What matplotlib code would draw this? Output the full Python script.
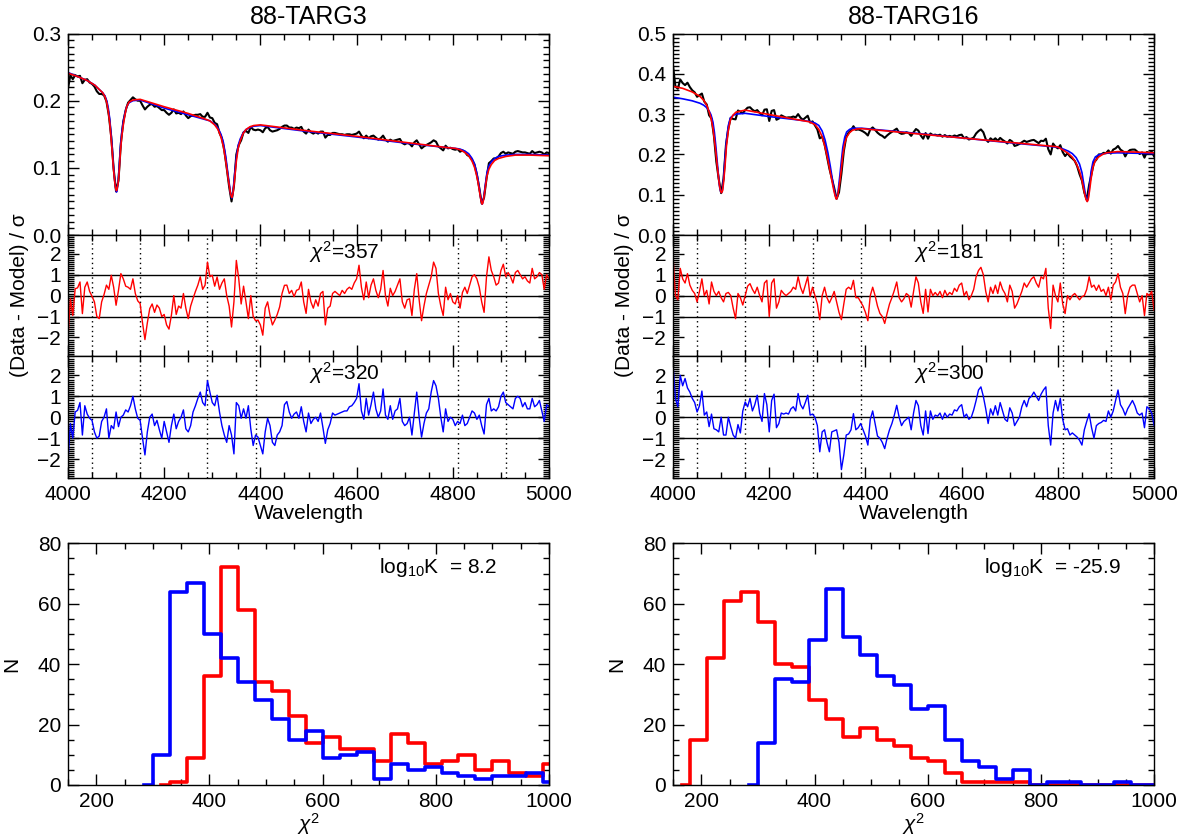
import matplotlib.pyplot as plt
import numpy as np
from matplotlib.ticker import MultipleLocator

plt.rcParams['font.family'] = ['Liberation Sans', 'DejaVu Sans']
plt.rcParams['mathtext.fontset'] = 'custom'
plt.rcParams['mathtext.rm'] = 'Liberation Sans'
plt.rcParams['mathtext.it'] = 'Liberation Sans:italic'

# wavelength grid of the observed spectra (5 A bins)
wave = np.arange(4000, 5001, 5)

# ---------------- 88-TARG3 ----------------
flux_targ3 = [
    .218, .238, .232, .238, .236, .237, .226, .231, .232, .227,
    .225, .221, .214, .210, .210, .208, .199, .178, .146, .098,
    .065, .081, .137, .169, .186, .197, .201, .205, .202, .200,
    .200, .193, .187, .191, .194, .195, .191, .192, .189, .186,
    .186, .182, .179, .182, .187, .181, .182, .180, .184, .178,
    .174, .177, .178, .179, .179, .180, .176, .176, .182, .175,
    .174, .167, .165, .152, .144, .126, .100, .072, .050, .073,
    .120, .134, .141, .153, .155, .152, .161, .157, .156, .157,
    .156, .153, .159, .161, .156, .154, .155, .156, .158, .161,
    .163, .163, .160, .160, .158, .160, .159, .161, .154, .151,
    .157, .153, .151, .153, .151, .154, .154, .145, .149, .149,
    .152, .152, .151, .150, .150, .149, .150, .150, .149, .150,
    .151, .154, .148, .144, .148, .144, .147, .148, .145, .142,
    .144, .148, .142, .139, .142, .140, .141, .142, .143, .137,
    .135, .137, .136, .132, .138, .141, .135, .129, .132, .134,
    .136, .138, .141, .139, .132, .129, .126, .133, .129, .130,
    .128, .127, .128, .124, .126, .124, .119, .117, .112, .105,
    .090, .070, .047, .056, .084, .107, .110, .114, .114, .117,
    .122, .124, .121, .123, .122, .121, .124, .125, .124, .123,
    .123, .122, .121, .125, .122, .123, .124, .123, .120, .123,
    .122]

# model A (red) and model B (blue) for 88-TARG3
mwave_targ3 = [4000, 4020, 4040, 4056, 4066, 4072, 4077, 4081, 4084, 4087, 4089, 4092,
               4094, 4096, 4098, 4100, 4101, 4102, 4104, 4106, 4109, 4112, 4115, 4119,
               4122, 4127, 4135, 4150, 4200, 4250, 4280, 4295, 4305, 4312, 4318, 4323,
               4328, 4332, 4335, 4338, 4340, 4341, 4343, 4346, 4350, 4354, 4358, 4364,
               4370, 4378, 4386, 4400, 4500, 4600, 4700, 4790, 4805, 4815, 4825, 4833,
               4840, 4845, 4849, 4852, 4855, 4857, 4859, 4861, 4862, 4864, 4866, 4868,
               4871, 4875, 4880, 4887, 4895, 4910, 4930, 4960, 5000]
model_a_targ3 = [.241, .236, .230, .223, .216, .212, .206, .196, .183, .166, .149, .124,
                 .104, .088, .074, .067, .066, .068, .076, .090, .124, .148, .164, .181,
                 .191, .198, .201, .202, .191, .181, .174, .170, .164, .157, .146, .132,
                 .110, .089, .075, .061, .057, .056, .062, .080, .110, .130, .140, .151,
                 .157, .161, .163, .164, .155, .147, .138, .130, .129, .127, .123, .118,
                 .110, .101, .090, .080, .067, .058, .050, .046, .047, .053, .063, .073,
                 .088, .098, .105, .111, .114, .117, .119, .119, .118]
model_b_targ3 = [.242, .236, .230, .223, .216, .212, .207, .199, .188, .172, .155, .130,
                 .108, .090, .075, .066, .064, .066, .078, .096, .131, .154, .169, .183,
                 .191, .197, .200, .201, .189, .179, .173, .170, .165, .159, .150, .138,
                 .117, .094, .078, .062, .056, .055, .064, .087, .116, .134, .143, .152,
                 .157, .160, .162, .163, .154, .146, .137, .130, .129, .128, .125, .121,
                 .114, .106, .095, .084, .070, .060, .051, .046, .048, .055, .066, .077,
                 .093, .103, .109, .114, .117, .119, .120, .120, .119]

resid_a_targ3 = [
    -2.0, -0.15, -0.95, 0.33, 0.37, 0.65, -0.86, 0.4, 0.65, 0.2,
    -0.03, -0.3, -1.0, -1.1, -0.3, 0.05, 0.5, 0.3, 0.97, 0.4,
    -0.46, 0.25, 1.05, 0.8, 0.45, 0.4, 0.3, 0.8, 0.1, -0.25,
    -0.38, -1.3, -2.1, -1.3, -0.62, -0.4, -0.8, -0.45, -0.6, -1.0,
    -0.9, -1.4, -1.6, -0.94, 0.0, -0.9, -0.5, -0.6, 0.1, -0.6,
    -1.1, -0.5, -0.14, 0.2, 0.5, 0.9, 0.3, 0.5, 1.6, 0.9,
    0.97, 0.45, 0.89, 0.3, 0.6, 0.8, 0.0, -0.5, -1.5, -0.3,
    1.68, 0.8, -0.4, 0.45, -0.3, -1.1, 0.0, -1.0, -1.2, -1.17,
    -1.4, -1.89, -0.6, -0.3, -0.94, -1.4, -1.17, -0.9, -0.54, 0.1,
    0.49, 0.5, 0.1, 0.25, -0.05, 0.25, 0.3, 0.65, -0.3, -0.85,
    0.3, -0.3, -0.6, -0.2, -0.5, 0.1, 0.2, -1.4, -0.6, -0.5,
    0.1, 0.2, 0.1, 0.0, 0.25, 0.1, 0.3, 0.4, 0.3, 0.6,
    0.8, 1.45, 0.4, -0.2, 0.65, -0.1, 0.5, 0.8, 0.25, -0.1,
    0.3, 1.2, 0.0, -0.5, 0.35, 0.0, 0.2, 0.5, 0.8, -0.3,
    -0.6, -0.2, -0.15, -0.95, 0.3, 1.05, -0.2, -1.2, -0.5, 0.1,
    0.5, 0.9, 1.6, 1.3, 0.1, -0.5, -0.95, 0.4, -0.2, 0.1,
    -0.3, -0.4, 0.0, -0.6, 0.15, 0.4, 0.1, 0.5, 0.9, 1.0,
    0.8, 0.4, -0.3, -0.8, 0.9, 1.85, 1.2, 0.9, 0.5, 0.6,
    1.2, 1.5, 0.9, 1.1, 0.9, 0.6, 1.1, 1.2, 1.0, 0.8,
    0.9, 0.7, 0.6, 1.3, 0.8, 0.9, 1.1, 1.0, 0.3, 1.0,
    0.8]
resid_b_targ3 = [
    -2.1, -0.3, -1.0, 0.25, 0.33, 0.7, -0.85, 0.55, 0.15, -0.05,
    -0.15, -0.7, -1.0, -0.9, -0.2, 0.0, 0.4, -1.0, -0.4, -0.55,
    0.25, -0.45, 0.0, 0.1, 0.35, 0.25, 0.55, 1.0, 0.4, -0.05,
    -0.15, -1.0, -1.8, -0.7, 0.0, 0.15, -0.4, -0.15, -0.6, -1.0,
    -0.2, -0.7, -1.2, -0.4, 0.15, -0.55, -0.2, 0.0, 0.35, -0.55,
    -0.7, -0.4, 0.25, 0.55, 0.9, 1.2, 0.7, 0.55, 1.75, 1.2,
    0.7, 0.55, 1.05, 0.25, -0.4, -0.85, -1.2, -0.4, -0.85, -1.75,
    0.7, 0.55, -0.05, 0.4, -0.05, 0.55, -0.55, -1.35, -0.85, -0.95,
    -1.35, -1.75, -0.7, -0.05, -0.4, -1.2, -1.35, -0.85, -0.7, -0.4,
    0.6, 0.75, 0.25, -0.05, 0.15, 0.25, -0.05, 0.5, -0.2, -0.7,
    0.2, -0.3, -0.1, 0.0, -0.2, 0.2, -0.5, -1.25, -0.6, -0.3,
    0.2, 0.1, 0.15, 0.2, 0.25, 0.3, 0.3, 0.5, 0.55, 0.7,
    0.9, 1.6, 0.3, -0.1, 0.9, 0.1, 0.6, 1.2, 0.4, 0.0,
    0.3, 1.35, 0.1, -0.1, 0.55, -0.1, 0.3, 0.4, 0.9, -0.2,
    -0.4, -0.3, 0.0, -0.85, 0.2, 1.2, 0.0, -0.95, -0.3, 0.2,
    0.4, 1.2, 1.75, 1.5, 0.9, 0.0, -0.7, 0.4, -0.2, 0.0,
    -0.1, -0.4, -0.2, -0.3, 0.1, -0.4, -0.3, 0.0, 0.3, 0.2,
    -0.1, 0.1, -0.4, -0.8, 0.6, 0.9, 0.3, 0.4, 0.3, 0.5,
    1.0, 1.2, 0.7, 0.6, 0.5, 0.4, 0.9, 1.0, 0.9, 0.5,
    0.7, 0.4, 0.4, 0.9, 0.5, 0.6, 0.8, 0.3, -0.2, 0.6,
    0.5]

# ---------------- 88-TARG16 ----------------
flux_targ16 = [
    .420, .368, .363, .386, .377, .372, .378, .367, .359, .354,
    .343, .347, .351, .331, .324, .297, .289, .246, .182, .139,
    .104, .140, .223, .265, .291, .288, .287, .309, .306, .302,
    .310, .316, .317, .311, .307, .310, .303, .297, .311, .312,
    .283, .308, .310, .286, .289, .297, .294, .291, .292, .292,
    .294, .292, .300, .291, .286, .291, .296, .279, .282, .272,
    .262, .240, .244, .225, .195, .165, .141, .117, .090, .106,
    .152, .208, .243, .254, .260, .270, .261, .262, .260, .257,
    .253, .247, .262, .267, .261, .254, .249, .246, .241, .247,
    .252, .256, .260, .264, .254, .251, .252, .255, .253, .246,
    .255, .263, .259, .247, .239, .253, .239, .252, .248, .249,
    .247, .249, .244, .248, .244, .246, .244, .247, .245, .248,
    .249, .240, .243, .237, .239, .242, .252, .258, .262, .255,
    .238, .231, .240, .235, .240, .234, .241, .236, .232, .227,
    .236, .232, .221, .223, .226, .230, .234, .231, .233, .235,
    .236, .232, .228, .234, .233, .239, .213, .200, .227, .219,
    .215, .223, .206, .196, .203, .195, .190, .184, .171, .151,
    .135, .105, .088, .125, .153, .180, .187, .200, .200, .204,
    .203, .210, .202, .212, .215, .221, .212, .208, .195, .206,
    .211, .212, .212, .207, .201, .205, .192, .206, .204, .207,
    .195]

mwave_targ16 = [4000, 4020, 4040, 4056, 4064, 4070, 4075, 4079, 4083, 4086, 4089, 4092,
                4095, 4097, 4099, 4100, 4101, 4103, 4105, 4108, 4111, 4115, 4119, 4125,
                4131, 4150, 4200, 4250, 4283, 4295, 4303, 4310, 4316, 4322, 4327, 4331,
                4334, 4337, 4339, 4340, 4342, 4344, 4347, 4350, 4353, 4357, 4361, 4367,
                4373, 4382, 4392, 4500, 4600, 4700, 4799, 4812, 4822, 4830, 4838, 4845,
                4850, 4854, 4857, 4859, 4861, 4863, 4866, 4869, 4873, 4878, 4885, 4893,
                4901, 4924, 4960, 5000]
model_a_targ16 = [.369, .364, .355, .344, .334, .322, .306, .290, .265, .236, .205, .170,
                  .138, .120, .109, .106, .105, .110, .130, .170, .220, .260, .285, .298,
                  .305, .310, .299, .288, .281, .274, .262, .244, .218, .186, .155, .130,
                  .112, .097, .090, .089, .096, .110, .135, .165, .199, .228, .243, .254,
                  .260, .263, .264, .252, .241, .230, .219, .210, .202, .193, .178, .158,
                  .136, .112, .095, .087, .083, .088, .112, .140, .169, .185, .194, .200,
                  .204, .207, .206, .204]
model_b_targ16 = [.342, .338, .333, .327, .322, .316, .308, .298, .280, .255, .220, .180,
                  .140, .118, .108, .106, .106, .114, .140, .190, .235, .272, .290, .297,
                  .300, .302, .294, .287, .282, .278, .272, .258, .236, .204, .170, .140,
                  .118, .100, .092, .090, .098, .118, .150, .185, .218, .243, .256, .262,
                  .265, .265, .265, .253, .241, .229, .218, .213, .208, .202, .192, .176,
                  .155, .125, .102, .090, .084, .092, .124, .158, .182, .194, .199, .201,
                  .203, .204, .203, .202]

resid_a_targ16 = [
    1.85, 0.0, -0.2, 1.3, 0.8, 0.6, 1.05, 0.5, 0.25, 0.1,
    -0.3, 0.2, 0.8, 0.0, 0.25, -0.4, 0.65, 0.2, 0.0, 0.2,
    -0.1, -0.3, 0.1, 0.15, 0.0, -0.6, -1.1, 0.1, -0.1, -0.45,
    0.0, 0.45, 0.57, 0.3, 0.1, 0.4, 0.0, -0.3, 0.6, 0.73,
    -1.0, 0.6, 0.8, -0.6, -0.3, 0.25, 0.1, 0.0, 0.1, 0.2,
    0.4, 0.3, 0.9, 0.4, 0.1, 0.5, 0.9, -0.05, 0.4, 0.0,
    -0.4, -1.15, 0.0, 0.4, -0.1, -0.35, -0.1, 0.2, -0.3, -0.8,
    -1.15, -0.4, 0.3, 0.4, 0.3, 0.73, -0.1, -0.1, -0.3, -0.5,
    -0.8, -1.2, 0.0, 0.4, 0.0, -0.5, -0.85, -1.0, -1.33, -0.85,
    -0.4, -0.1, 0.25, 0.65, -0.1, -0.3, -0.15, 0.1, 0.0, -0.55,
    0.2, 0.9, 0.6, -0.3, -0.85, 0.3, -0.78, 0.3, 0.0, 0.15,
    0.0, 0.2, -0.1, 0.25, 0.0, 0.15, 0.05, 0.35, 0.2, 0.5,
    0.6, 0.0, 0.2, -0.2, 0.0, 0.3, 0.9, 1.2, 1.35, 1.0,
    0.2, -0.3, 0.4, 0.1, 0.5, 0.1, 0.65, 0.3, 0.1, -0.3,
    0.5, 0.2, -0.6, -0.4, -0.1, 0.2, 0.6, 0.4, 0.6, 0.8,
    0.9, 0.6, 0.4, 0.9, 0.8, 1.3, -0.6, -1.57, 0.5, 0.0,
    -0.3, 0.6, -0.4, -0.86, 0.0, -0.2, 0.0, 0.1, -0.05, -0.2,
    -0.05, 0.0, 0.3, 0.9, 0.4, 0.5, 0.25, 0.5, 0.2, 0.3,
    0.0, 0.4, -0.2, 0.5, 0.65, 1.05, 0.4, 0.1, -0.86, 0.0,
    0.4, 0.5, 0.5, 0.1, -0.3, 0.0, -0.95, 0.1, 0.0, 0.2,
    -0.7]
resid_b_targ16 = [
    2.5, 0.9, 0.5, 2.0, 1.5, 1.85, 1.4, 1.2, 0.9, 0.7,
    0.25, 0.55, 1.25, 0.1, 0.25, -0.45, 0.15, -0.55, -0.6, -0.7,
    0.0, -0.85, -0.85, 0.0, -0.45, -0.85, -1.0, -0.35, -0.75, 0.3,
    0.73, 0.5, 0.9, 0.3, 0.6, 1.05, 0.2, -0.2, 1.13, 0.6,
    -0.7, 0.8, 1.1, -0.5, -0.3, 0.2, 0.15, 0.2, 0.15, 0.4,
    0.5, 0.3, 1.13, 0.6, 0.4, 0.7, 1.05, 0.1, 0.15, 0.0,
    -0.4, -1.65, -0.7, -0.6, -1.2, -1.65, -0.7, -0.65, -0.6, -1.2,
    -2.5, -1.8, -0.85, -0.8, -0.6, 0.17, -0.6, -0.5, -0.3, -0.6,
    -0.9, -1.33, -0.1, 0.3, -0.3, -0.9, -1.0, -1.2, -1.5, -1.0,
    -0.6, -0.3, 0.1, 0.57, 0.0, -0.4, -0.2, -0.1, 0.0, -0.6,
    0.2, 0.8, 0.55, -0.4, -0.85, 0.3, -0.78, 0.3, -0.1, 0.1,
    0.05, 0.2, -0.1, 0.2, 0.0, 0.15, 0.1, 0.35, 0.3, 0.5,
    0.6, 0.0, 0.15, -0.1, 0.0, 0.35, 0.8, 1.3, 1.45, 1.0,
    0.4, -0.3, 0.4, 0.1, 0.55, 0.1, 0.7, 0.3, -0.1, -0.2,
    0.45, 0.2, -0.4, -0.2, 0.0, 0.5, 0.8, 0.5, 0.9, 1.0,
    1.2, 1.0, 0.8, 1.1, 1.3, 1.45, -0.4, -1.33, 0.2, 0.8,
    0.3, 0.9, -0.1, -0.6, -0.55, -0.85, -0.75, -0.85, -0.95, -1.1,
    -1.33, -0.6, -0.2, 0.17, -0.5, -1.0, -0.4, -0.3, -0.25, -0.15,
    -0.2, 0.3, 0.0, 0.3, 0.8, 1.3, 0.6, 0.4, 0.1, 0.4,
    0.6, 0.8, 0.55, 0.2, 0.1, 0.2, -0.5, 0.5, 0.4, 0.2,
    -0.4]

chi2_labels = {'targ3': (357, 320), 'targ16': (181, 300)}

# masked regions marked in the residual panels
mask_edges = [4050, 4150, 4290, 4390, 4810, 4910]

# chi^2 distributions (bin centres and counts)
hist_x_targ3_a = [315, 345, 375, 405, 435, 465, 495, 525, 555, 585, 615, 645, 675,
                  705, 735, 765, 795, 825, 855, 885, 915, 945, 975, 1005]
hist_n_targ3_a = [0, 1, 9, 36, 72, 58, 34, 31, 23, 14, 16, 12, 12,
                  8, 17, 14, 7, 8, 10, 5, 8, 4, 3, 7]
hist_x_targ3_b = [285, 315, 345, 375, 405, 435, 465, 495, 525, 555, 585, 615, 645,
                  675, 705, 735, 765, 795, 825, 855, 885, 915, 945, 975, 1005]
hist_n_targ3_b = [0, 10, 64, 67, 50, 42, 34, 28, 22, 15, 18, 9, 10,
                  11, 2, 7, 5, 6, 4, 3, 2, 3, 3, 4, 1]

hist_x_targ16_a = [165, 195, 225, 255, 285, 315, 345, 375, 405, 435, 465, 495, 525,
                   555, 585, 615, 645, 675, 705, 735, 765, 795, 825, 855, 885, 915,
                   945, 975, 1005]
hist_n_targ16_a = [0, 15, 42, 61, 64, 54, 40, 39, 28, 22, 16, 19, 15,
                   13, 9, 8, 4, 1, 1, 1, 1, 0, 0, 0, 0, 0,
                   0, 0, 0]
hist_x_targ16_b = [285, 315, 345, 375, 405, 435, 465, 495, 525, 555, 585, 615, 645,
                   675, 705, 735, 765, 795, 825, 855, 885, 915, 945, 975, 1005]
hist_n_targ16_b = [0, 14, 35, 34, 48, 65, 49, 43, 36, 33, 25, 26, 15,
                   8, 6, 2, 5, 0, 1, 1, 0, 0, 1, 0, 0]

log10k = {'targ3': '8.2', 'targ16': '-25.9'}

FS = 15


def idl_ticks(ax, xmaj, xmin, ymaj, ymin):
    ax.xaxis.set_major_locator(MultipleLocator(xmaj))
    ax.xaxis.set_minor_locator(MultipleLocator(xmin))
    ax.yaxis.set_major_locator(MultipleLocator(ymaj))
    ax.yaxis.set_minor_locator(MultipleLocator(ymin))
    ax.tick_params(which='both', direction='in', top=True, right=True,
                   labelsize=FS, width=1, pad=5)
    ax.tick_params(which='major', length=8)
    ax.tick_params(which='minor', length=4)
    for sp in ax.spines.values():
        sp.set_linewidth(1)


fig = plt.figure(figsize=(11.82, 8.4), dpi=100)

columns = [
    ('88-TARG3', 0.0575, flux_targ3, mwave_targ3, model_a_targ3, model_b_targ3,
     resid_a_targ3, resid_b_targ3, chi2_labels['targ3'], 0.3,
     (hist_x_targ3_a, hist_n_targ3_a, hist_x_targ3_b, hist_n_targ3_b), log10k['targ3']),
    ('88-TARG16', 0.5694, flux_targ16, mwave_targ16, model_a_targ16, model_b_targ16,
     resid_a_targ16, resid_b_targ16, chi2_labels['targ16'], 0.5,
     (hist_x_targ16_a, hist_n_targ16_a, hist_x_targ16_b, hist_n_targ16_b), log10k['targ16']),
]

for (name, left, flux, mwave, model_a, model_b, res_a, res_b, chis, ytop,
     hist, logk) in columns:
    width = 0.407

    # spectrum with both fitted models
    ax = fig.add_axes([left, 0.7202, width, 0.2399])
    ax.plot(wave, flux, color='black', lw=1.5)
    ax.plot(mwave, model_b, color='blue', lw=1.2)
    ax.plot(mwave, model_a, color='red', lw=1.2)
    ax.set_xlim(4000, 5000)
    ax.set_ylim(0, ytop)
    idl_ticks(ax, 200, 50, 0.1, 0.01)
    ax.yaxis.set_major_formatter(plt.FormatStrFormatter('%.1f'))
    ax.tick_params(labelbottom=False)
    ax.set_title(name, fontsize=18, pad=7)

    # normalised residuals for each model
    for k, (res, col, chi) in enumerate([(res_a, 'red', chis[0]),
                                          (res_b, 'blue', chis[1])]):
        bottom = 0.5758 if k == 0 else 0.4310
        rax = fig.add_axes([left, bottom, width, 0.1446])
        for e in mask_edges:
            rax.axvline(e, color='black', lw=1, ls=(0, (1, 2.5)))
        for h in (-1, 0, 1):
            rax.axhline(h, color='black', lw=1)
        rax.plot(wave, res, color=col, lw=1.0)
        rax.set_xlim(4000, 5000)
        rax.set_ylim(-2.9, 2.9)
        idl_ticks(rax, 200, 50, 1, 0.1)
        rax.text(4500, 2.1, r'$\chi^2$=%d' % chi, fontsize=FS, ha='left', va='center')
        if k == 0:
            rax.tick_params(labelbottom=False)
            rax.set_ylabel('(Data - Model) / σ', fontsize=15, labelpad=6)
        else:
            rax.set_xlabel('Wavelength', fontsize=15, labelpad=0)

    # chi^2 histograms
    hax = fig.add_axes([left, 0.0655, width, 0.2877])
    hx_a, hn_a, hx_b, hn_b = hist
    hax.step(hx_a, hn_a, where='mid', color='red', lw=2.6)
    hax.step(hx_b, hn_b, where='mid', color='blue', lw=2.6)
    hax.set_xlim(150, 1000)
    hax.set_ylim(0, 80)
    idl_ticks(hax, 200, 50, 20, 5)
    hax.text(700, 72, r'log$_{10}$K  = ' + logk, fontsize=FS, ha='left', va='center')
    hax.set_xlabel(r'$\chi^2$', fontsize=15, labelpad=0)
    hax.set_ylabel('N', fontsize=15, labelpad=12)

fig.savefig('out.png', dpi=100)
